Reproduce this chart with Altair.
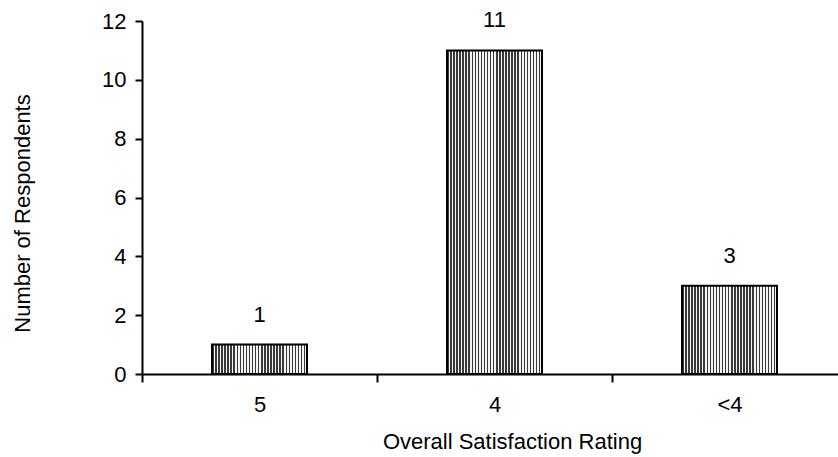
import altair as alt
import pandas as pd

categories = ["5", "4", "<4"]
respondents = [1, 11, 3]
y_ticks = [0, 2, 4, 6, 8, 10, 12]

df = pd.DataFrame({"rating": categories, "count": respondents})

# vertical stripe fill built as a hard-stop linear gradient
n_stripes = 31
stops = []
for i in range(n_stripes):
    a = i / n_stripes
    b = (i + 0.5) / n_stripes
    c = (i + 1) / n_stripes
    stops += [
        alt.GradientStop(offset=a, color="#3a3a3a"),
        alt.GradientStop(offset=b, color="#3a3a3a"),
        alt.GradientStop(offset=b, color="#f4f4f4"),
        alt.GradientStop(offset=c, color="#f4f4f4"),
    ]
stripes = alt.LinearGradient(gradient="linear", stops=stops, x1=0, x2=1, y1=0, y2=0)

FONT = "Liberation Sans"
FS = 22

x_enc = alt.X(
    "rating:N",
    sort=categories,
    scale=alt.Scale(range=[0, 705], paddingInner=0, paddingOuter=0),
    axis=alt.Axis(
        title="Overall Satisfaction Rating",
        labelAngle=0,
        tickBand="extent",
        tickSize=8,
        tickWidth=2,
        tickColor="black",
        domainColor="black",
        domainWidth=2,
        labelPadding=12,
        labelFontSize=FS,
        labelFont=FONT,
        labelColor="black",
        titleFont=FONT,
        titleFontSize=FS,
        titleFontWeight="normal",
        titleColor="black",
        titleX=370,
        titleY=67,
        titleBaseline="middle",
        grid=False,
    ),
)
y_enc = alt.Y(
    "count:Q",
    scale=alt.Scale(domain=[0, 12], nice=False),
    axis=alt.Axis(
        title="Number of Respondents",
        values=y_ticks,
        tickSize=7,
        tickWidth=2,
        tickColor="black",
        domainColor="black",
        domainWidth=2,
        labelPadding=9,
        labelFontSize=FS,
        labelFont=FONT,
        labelColor="black",
        titleFont=FONT,
        titleFontSize=FS,
        titleFontWeight="normal",
        titleColor="black",
        titleAngle=270,
        titleX=-120,
        titleY=192,
        titleAlign="center",
        titleBaseline="middle",
        grid=False,
    ),
)

bars = alt.Chart(df).mark_bar(
    fill=stripes, stroke="black", strokeWidth=2, width=95
).encode(x=x_enc, y=y_enc)

labels = alt.Chart(df).mark_text(
    baseline="middle", dy=-30, fontSize=FS, font=FONT, color="black"
).encode(x=alt.X("rating:N", sort=categories), y="count:Q", text="count:Q")

chart = (
    alt.layer(bars, labels)
    .properties(
        width=696,
        height=353,
        autosize=alt.AutoSizeParams(type="none"),
        padding={"left": 142, "top": 21, "right": 0, "bottom": 83},
        background="white",
    )
    .configure_view(stroke=None)
)

chart.save("out.html", embed_options={"renderer": "svg", "actions": False})
